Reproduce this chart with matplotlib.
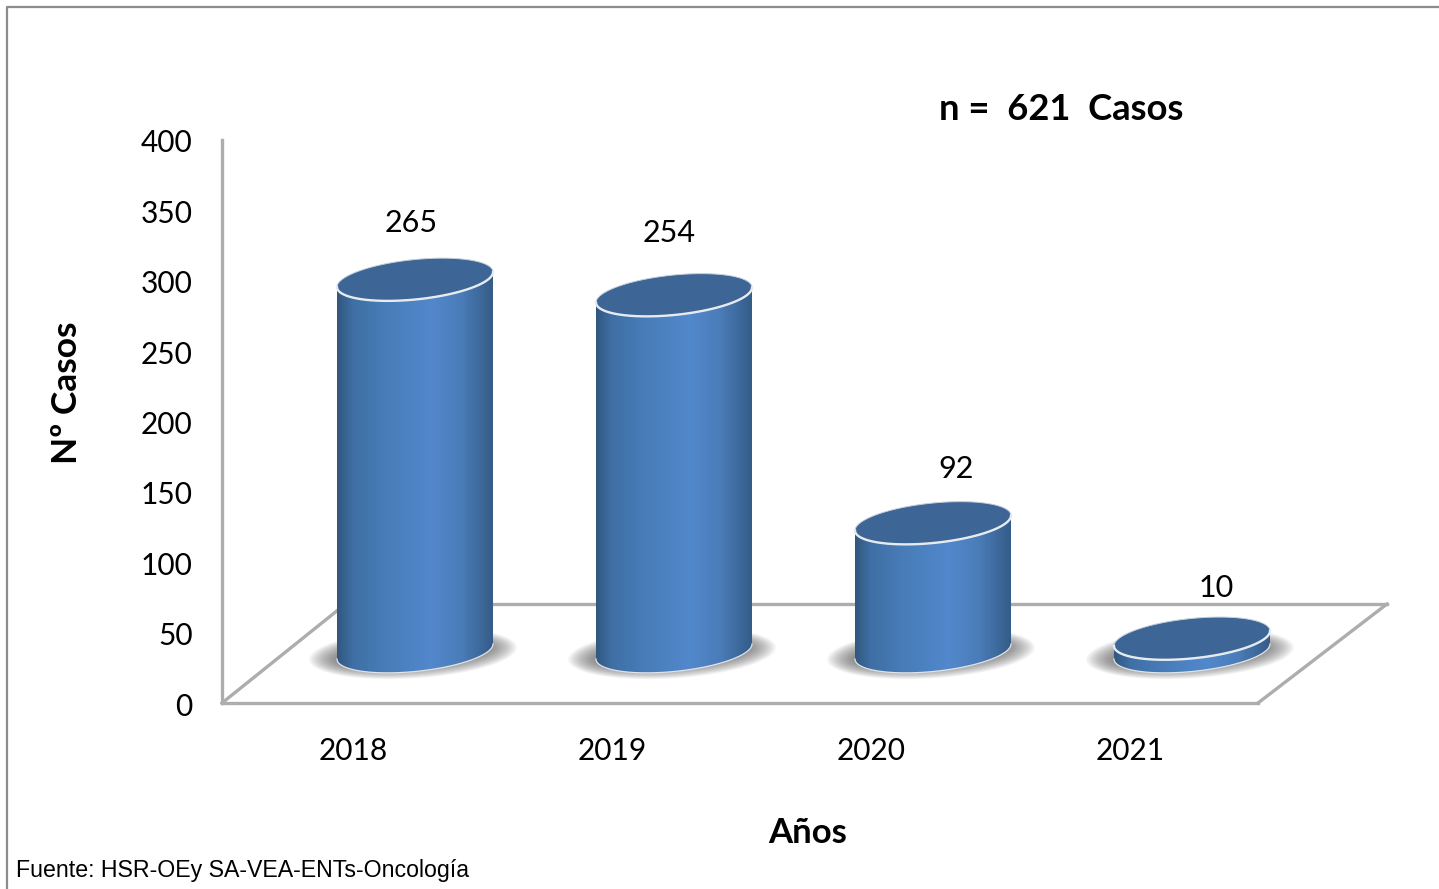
"""Casos por año: cilindros 3D simulados."""

import matplotlib
matplotlib.use("Agg")
import matplotlib.pyplot as plt
import numpy as np
from matplotlib.colors import LinearSegmentedColormap
from matplotlib.lines import Line2D
from matplotlib.patches import Polygon
from matplotlib.transforms import Affine2D, IdentityTransform

years = ["2018", "2019", "2020", "2021"]
cases = [265, 254, 92, 10]
y_ticks = [0, 50, 100, 150, 200, 250, 300, 350, 400]

WIDTH, HEIGHT = 1439, 889
DEPTH_X, DEPTH_Y = 63.5, 51.5  # bar base sits half way into the floor
RX, RY, TILT = 78, 20, 7.5  # ellipse half width, half height, slope
GRAY = "#adadad"
LABEL_FONT = ["Lato", "DejaVu Sans"]

side_cmap = LinearSegmentedColormap.from_list(
    "side", [(0, "#31577f"), (0.1, "#3f6fa4"), (0.3, "#477cb8"), (0.6, "#5288cc"), (0.8, "#4a7cb8"), (1, "#355c88")]
)

fig = plt.figure(figsize=(WIDTH / 100, HEIGHT / 100), dpi=100)
ax = fig.add_axes([222 / WIDTH, (HEIGHT - 703) / HEIGHT, (1258 - 222) / WIDTH, (703 - 140) / HEIGHT])
ax.set_xlim(-0.5, 3.5)
ax.set_ylim(0, 400)
ax.patch.set_alpha(0)
ident = IdentityTransform()


def px(x, y):
    """Image pixel (y down) to display coordinates (y up)."""
    return x, HEIGHT - y


def ellipse_points(cx, cy, t0=0.0, t1=2 * np.pi, rx=RX, ry=RY, tilt=TILT):
    # display coordinates, sheared so that the sides stay vertical
    t = np.linspace(t0, t1, 120)
    return np.column_stack([cx + rx * np.cos(t), cy + tilt * np.cos(t) + ry * np.sin(t)])


def draw_cylinder(cx, y_base, y_top):
    # soft shadow as stacked transparent ellipses
    for s in np.linspace(1.0, 0.0, 26):
        pts = ellipse_points(cx - 2, y_base - 2, rx=76 + 28 * s, ry=13 + 12 * s, tilt=6)
        ax.add_patch(Polygon(pts, closed=True, transform=ident, fc="#505050", ec="none",
                             alpha=0.035, zorder=2, clip_on=False))

    # side of the cylinder: top ellipse front edge down to bottom ellipse front edge
    front_bottom = ellipse_points(cx, y_base, t0=np.pi, t1=2 * np.pi)
    front_top = ellipse_points(cx, y_top, t0=2 * np.pi, t1=np.pi)
    side = Polygon(np.vstack([front_bottom, front_top]), closed=True, transform=ident, fc="none", ec="none")
    side.set_clip_on(False)
    ax.add_patch(side)
    gradient = np.linspace(0, 1, 256).reshape(1, -1)
    img = ax.imshow(gradient, cmap=side_cmap, aspect="auto", transform=ident, zorder=3,
                    extent=(cx - RX, cx + RX, y_base - 30, y_top + 30))
    img.set_clip_box(fig.bbox)
    img.set_clip_path(side)

    # faint rim at the base, cap and bright rim at the top
    ax.plot(*front_bottom.T, transform=ident, color="#dfe4ea", lw=0.9, zorder=3.5, clip_on=False)
    ax.add_patch(Polygon(ellipse_points(cx, y_top), closed=True, transform=ident, fc="#3d6595",
                         ec="#c5d0dc", lw=0.7, zorder=4, clip_on=False))
    ax.plot(*ellipse_points(cx, y_top, t0=np.pi, t1=2 * np.pi).T, transform=ident, color="#e6ebf0",
            lw=1.7, zorder=5, clip_on=False)


# floor lines behind the bars
floor_lines = [
    [(222, 703), (338, 610)],
    [(350, 604), (1387, 604)],
    [(1258, 703), (1387, 604)],
]
for (x0, y0), (x1, y1) in floor_lines:
    a, b = px(x0, y0), px(x1, y1)
    ax.add_line(Line2D([a[0], b[0]], [a[1], b[1]], transform=ident, color=GRAY, lw=2.4, zorder=1, clip_on=False))

for i, value in enumerate(cases):
    base = ax.transData.transform((i, 0))
    top = ax.transData.transform((i, value))
    draw_cylinder(base[0] + DEPTH_X, base[1] + DEPTH_Y, top[1] + DEPTH_Y - 1)

# value labels, offset by hand as in the original chart
label_shift = [(-4, 56), (-5, 61), (23, 53), (24, 49)]
for i, value in enumerate(cases):
    top = ax.transData.transform((i, value))
    ax.text(top[0] + DEPTH_X + label_shift[i][0], top[1] + DEPTH_Y + label_shift[i][1], str(value),
            transform=ident, ha="center", va="center", fontsize=22, family=LABEL_FONT, color="black", zorder=6)

ax.set_xticks(range(len(years)), years)
ax.set_yticks(y_ticks)
ax.tick_params(axis="both", length=0, labelsize=21.5, colors="black")
ax.tick_params(axis="x", pad=24.5)
ax.tick_params(axis="y", pad=21)
for label in ax.get_xticklabels():
    label.set_family(LABEL_FONT)
    label.set_transform(label.get_transform() + Affine2D().translate(1.5, 0))
for label in ax.get_yticklabels():
    label.set_family(LABEL_FONT)
    label.set_transform(label.get_transform() + Affine2D().translate(0, -1))
for name in ["top", "right"]:
    ax.spines[name].set_visible(False)
for name in ["left", "bottom"]:
    ax.spines[name].set_color(GRAY)
    ax.spines[name].set_linewidth(2.4)

fig.text(939 / WIDTH, 1 - 109 / HEIGHT, "n =  621  Casos", fontsize=26.2, fontweight="bold",
         family=LABEL_FONT, ha="left", va="center")
fig.text(67 / WIDTH, 1 - 393 / HEIGHT, "Nº Casos", fontsize=25.5, fontweight="bold", rotation=90,
         family=LABEL_FONT, ha="center", va="center")
fig.text(808 / WIDTH, 1 - 833 / HEIGHT, "Años", fontsize=25, fontweight="bold",
         family=LABEL_FONT, ha="center", va="center")
fig.text(16 / WIDTH, 1 - 871 / HEIGHT, "Fuente: HSR-OEy SA-VEA-ENTs-Oncología", fontsize=16.7,
         family="Liberation Sans", ha="left", va="center")

# outer frame: only top and left are inside the picture
fig.add_artist(Line2D([7 / WIDTH, 7 / WIDTH, 1], [0, 1 - 7 / HEIGHT, 1 - 7 / HEIGHT],
                      transform=fig.transFigure, color="#8c8c8c", lw=1.6))

fig.savefig("out.png", dpi=100)
